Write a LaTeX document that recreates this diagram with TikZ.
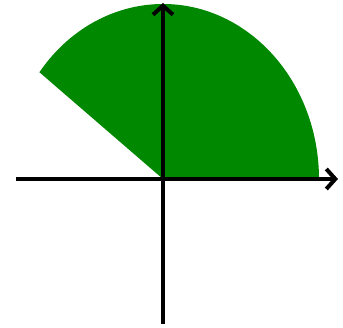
\documentclass[tikz,border=0pt]{standalone}
\usetikzlibrary{arrows.meta}
\definecolor{sectorgreen}{RGB}{0,136,0}
\begin{document}
\begin{tikzpicture}[x=1pt,y=1pt]
\useasboundingbox (-163,-149) rectangle (180,179);
\coordinate (O) at (0,0);
\coordinate (xl) at (-147,0);
\coordinate (xr) at (175,0);
\coordinate (yb) at (0,-145);
\coordinate (yt) at (0,176);
\fill[sectorgreen] (O) -- (142.4:156 and 175) arc[start angle=142.4, end angle=0, x radius=156, y radius=175] -- cycle;
\draw[line width=4pt,-{Straight Barb[length=9pt,width=20pt]}] (xl) -- (xr);
\draw[line width=4pt,-{Straight Barb[length=9pt,width=20pt]}] (yb) -- (yt);
\end{tikzpicture}
\end{document}
